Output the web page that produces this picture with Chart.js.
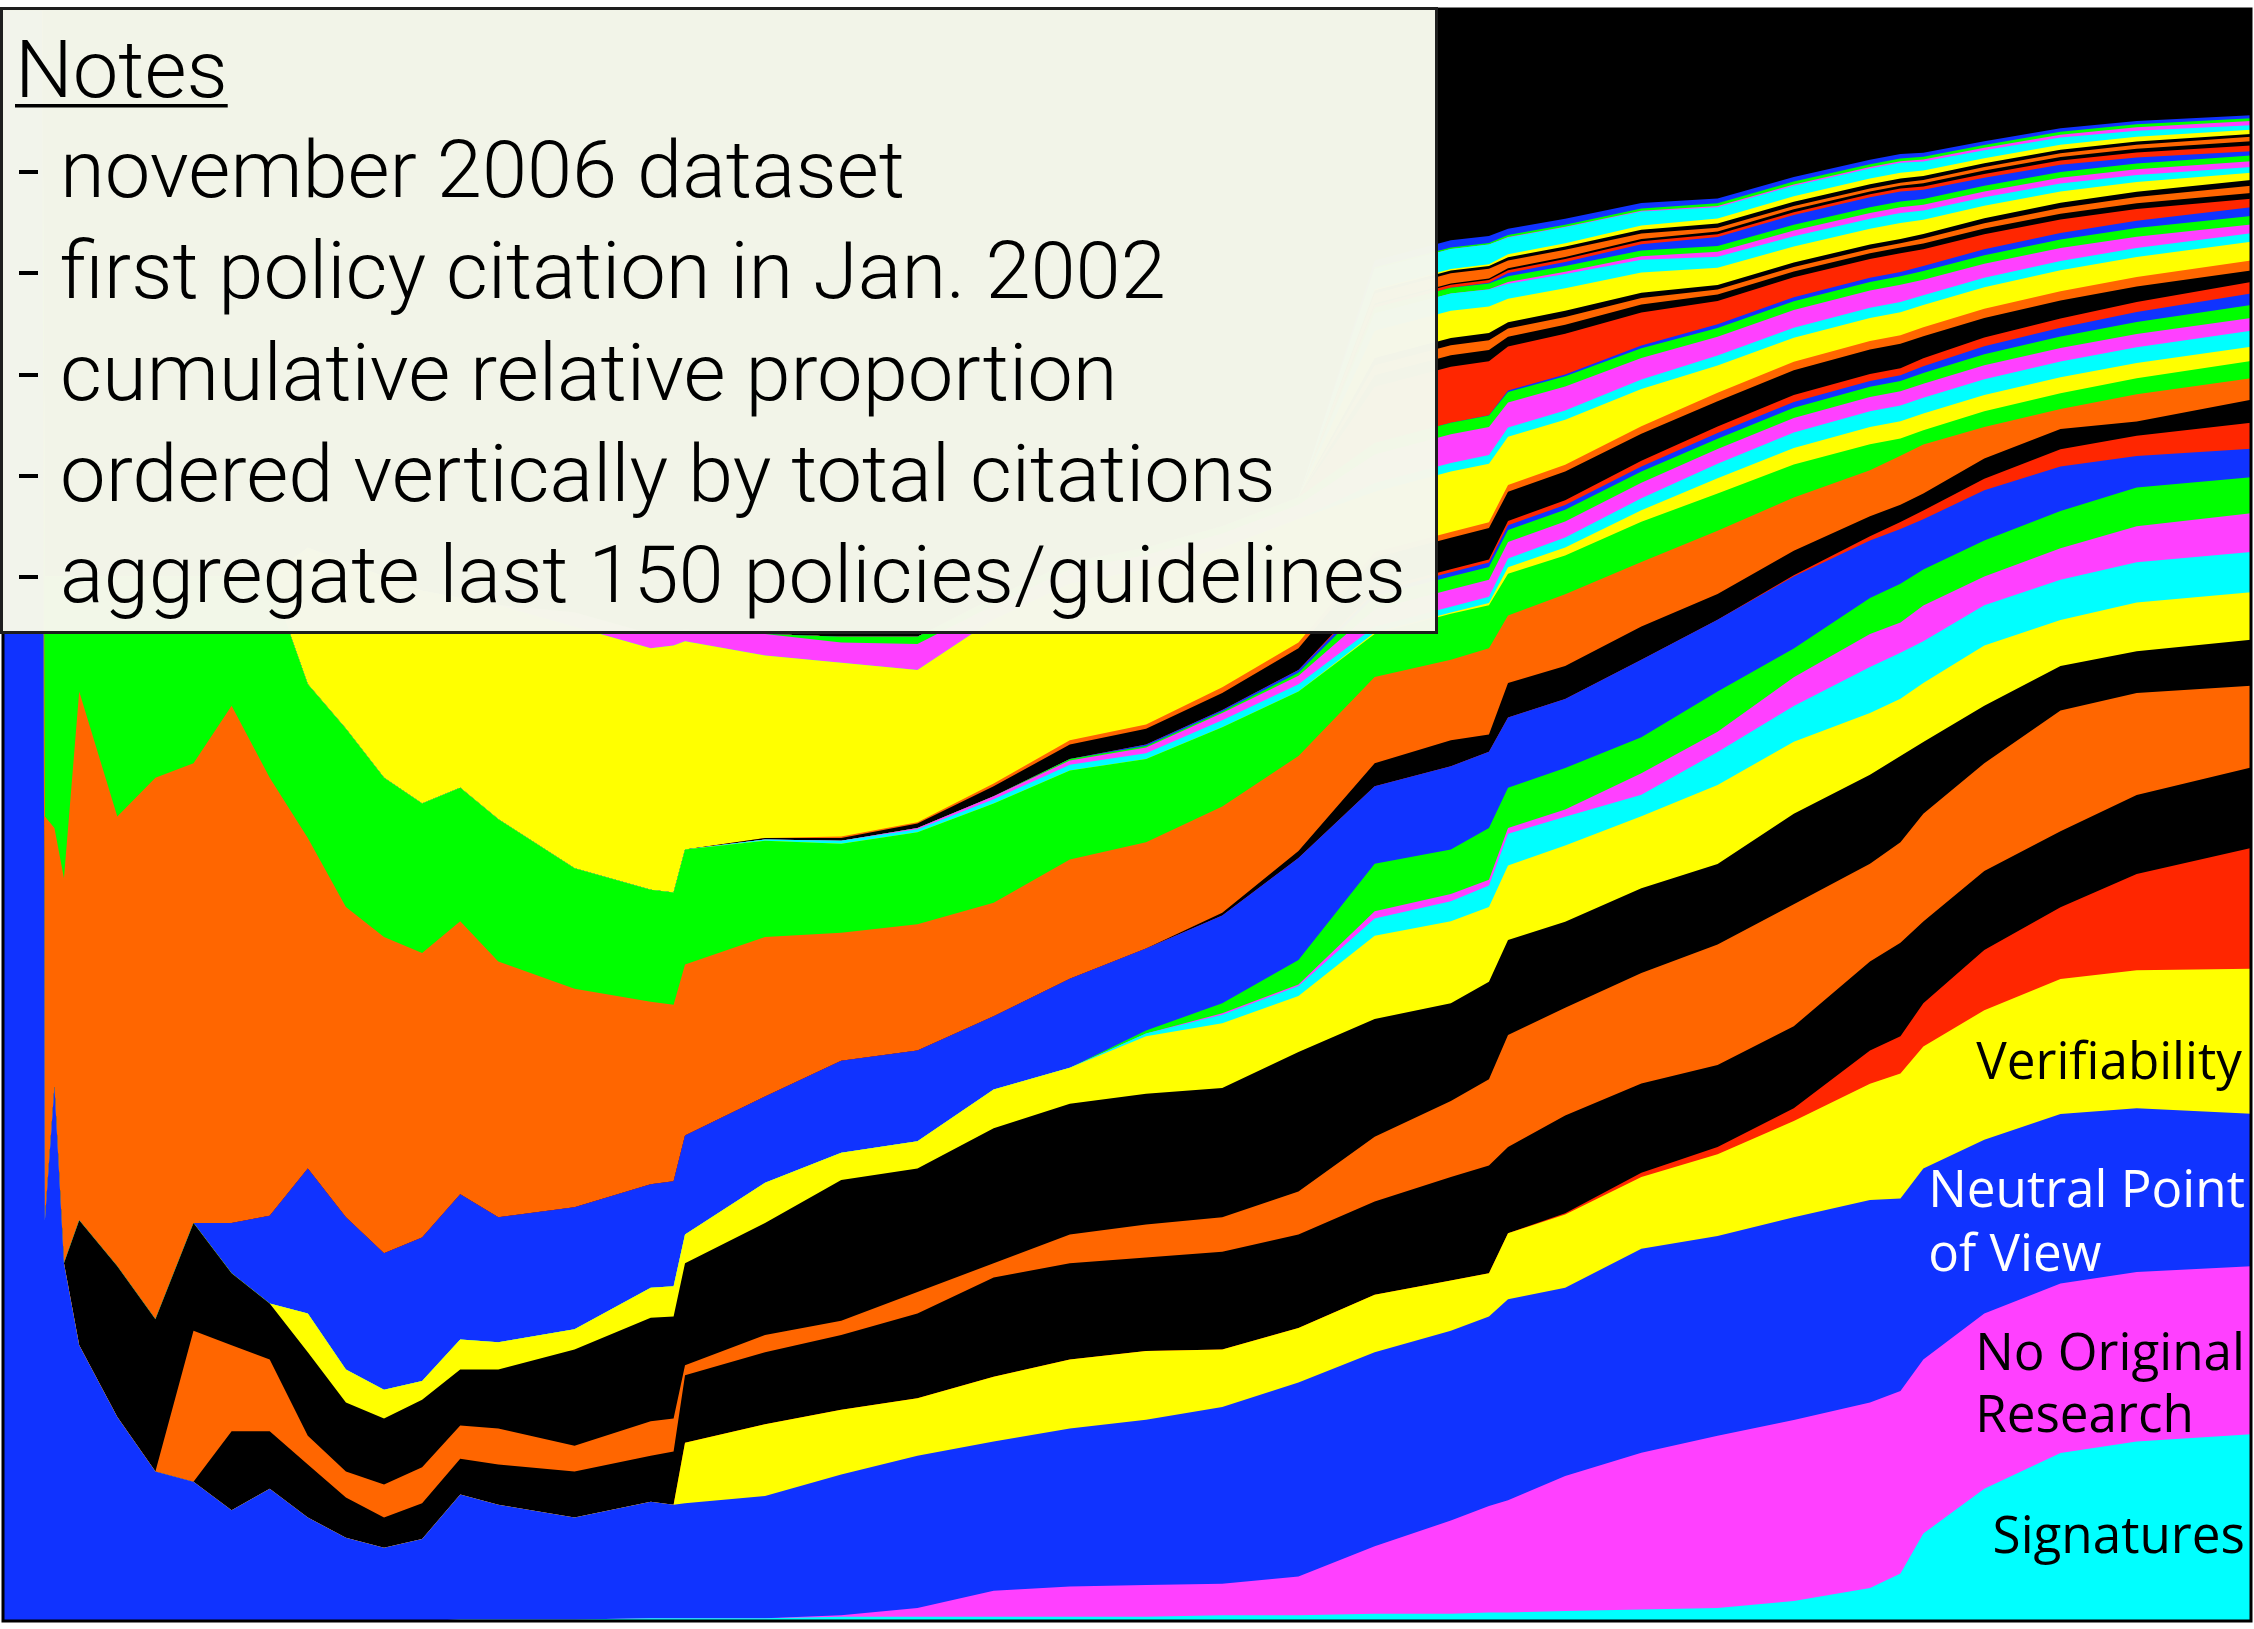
<!DOCTYPE html>
<html lang="en">
<head>
<meta charset="UTF-8">
<title>Policy citations - cumulative relative proportion</title>
<script src="https://cdn.jsdelivr.net/npm/chart.js@4.4.1/dist/chart.umd.min.js"></script>
<style>
  html, body { margin: 0; padding: 0; background: #fff; }
  canvas { display: block; }
</style>
</head>
<body>
<canvas id="chart" width="2254" height="1629"></canvas>
<script>
// months since Jan 2002 (sample points)
const months = [0, 1.03, 1.1, 1.35, 1.6, 2, 3, 4, 5, 6, 7, 8, 9, 10, 11, 12, 13, 15, 17, 17.6, 17.9, 20, 22, 24, 26, 28, 30, 32, 34, 36, 38, 39, 39.5, 41, 43, 45, 47, 49, 49.8, 50.4, 52, 54, 56, 59];

// relative share of citations per policy (bottom of stack first), normalised per month below
const signatures = [0,0,0,0,0, 0,0,0,0,0, 0,0,0,0,0, 1,1,1,2,2, 2,2,3,3,3, 3,3,4,4,5, 5,6,6,7,8, 9,14,23,33,61, 92,117,125,130];
const noOriginalResearch = [0,0,0,0,0, 0,0,0,0,0, 0,0,0,0,0, 0,0,0,0,0, 0,0, 1,6,18,21,22, 22,27,47,65,74, 78,94,109,120,126, 129,127,121,122,118, 118,117];
const neutralPointOfView = [1122,1122,279,372,249, 192,142,104,97,77, 92,72,58,51,57, 87,80,71,81,79, 80,85,98,106,104, 110,115,123,135,135, 132,132,140,131,142, 139,141,141,134,133, 121,118,114,106];
const verifiability = [0,0,0,0,0, 0,0,0,0,0, 0,0,0,0,0, 0,0,0,0,0, 42,50,45,40,45, 48,48,40,38,40, 35,30,46,51,50, 57,67,81,87,85, 90,94,96,101];
const rank05 = [0,0,0,0,0, 0,0,0,0,0, 0,0,0,0,0, 0,0,0,0,0, 0,0,0,0,0, 0,0,0,0,0, 0,0,0, 1,3,5,9,23, 26,30,42,50,67, 84];
const rank06 = [0,0,0,0,0, 0,0,0,0, 55,40,37,28,21, 25,25,28,32,32, 37,47,50,52,59, 69,67,65,68,65, 65,72,75,60,68, 62,57,57,62,65, 57,55,53,55,56];
const rank07 = [0,0,0,0,0, 0,0,0, 105,60,50,20,18, 23,25,23,25,18, 24,23,7,12,10, 15,10,20,23,24, 30,45,53,60,78, 75,77,84,85,68, 70,75,75,84,71, 57];
const rank08 = [0,0,0,0,0, 87,105,106,75,50, 39,58,48,46,47, 39,41,67,72,71, 71,78,98,86,94, 91,91,90,97,82, 68,68,66,60,59, 56,63,62,60,50, 40,31,29,32];
const rank09 = [0,0,0,0,0, 0,0,0,0,0, 0, 27,23,20,13,21, 19,14,21,21,20, 28,19,19,27,25, 40,45,39,58,57, 52,52,53,50,55, 50,43,40,41,42, 32,34,33];
const rank10 = [0,0,0,0,0, 0,0,0,0,0, 0,0,0,0,0, 0,0,0,0,0, 0,0,0,0,0, 0, 2,6,7,12,14, 15,22,20,15,23, 25,32,32,29,28, 28,28,28];
const rank11 = [0,0,0,0,0, 0,0,0,0,0, 0,0,0,0,0, 0,0,0,0,0, 0,0,0,0,0, 0,0, 1,1,5,5,4, 4,5,15,14,20, 23,21,25,20,22, 25,27];
const rank12 = [0,0,0,0,0, 0,0,0,0,0, 0,0,0,0,0, 0,0,0,0,0, 0,0,0,0,0, 0, 2,7,17,33,31, 36,28,29,25,28, 20,25,27,25,25, 26,27,25];
const rank13 = [0,0,0,0,0, 0,0,0,0, 35,61,101,106,95, 100,101,87,85,72, 73,69,60,64,63, 51,62,57,61,71, 54,58,53,49,48, 54,50,50,40,38, 35,35,31,22,20];
const rank14 = [0,0,0,0,0, 0,0,0,0,0, 0,0,0,0,0, 0,0,0,0,0, 0,0,0,0,0, 0,0,0,0,0, 0,0,0,0,0, 0, 1,3,5,6,8,12,14,18];
const rank15 = [0,0,0,0,0, 0,0,0,0,0, 0,0,0,0,0, 0,0,0,0,0, 0,0,0,0,0, 0,0, 2,5,16,18,12, 24,23,23,18,17, 14,12,12,14,14, 10,16];
const rank16 = [0,0,281,180,268, 368,313,377,320,360, 305,230,216,220,198, 190,178,152,127,123, 119,111,89,88,79, 83,74,74,66,60, 56,60,47,50,45, 44,37,32,34,34, 22,14,19,15];
const rank17 = [0,0,167,175,210, 80,167,140,130,90, 140,107,124,111,104, 93,99,84,78,78, 80,67,62,64,69, 62,58,55,45,30, 32,30,29,27,28, 26,23,18,12,10, 11,11,11,12];
const rank18 = [0,0,0,0,0, 0,0,0,0,0, 0,0,0,0,0, 0,0,0,0,0, 0,0,0,0,0, 0,0,0,0, 1,1,1.5,4.5,5.5, 8,10.5,11.5,12,12, 11.6,11.3,11,10.6,10];
const rank19 = [0,0,0,0,0, 0,0,0,0,0, 0,0,0,0,0, 0,0,0,0,0, 0, 1,2,2,3,4, 4,5,5,4,4, 4.4,6.2,6.9,8.3,10.2, 10.8,11,11,11,11, 11,11,11];
const rank20 = [0,0,0,0,0, 0,0,0,0,0, 0,0,0,0,0, 0,0,0,0,0, 0,0,0, 1,2,3,4,5, 6,12,12,11.9,11.4, 11.2,10.8,10.2,10.1,10, 10,9.8,9.6,9.5,9.3, 9];
const rank21 = [0,0,0,0,0, 0,0,0,0,0, 0,0,0,0,0, 0,0,0,0,0, 0,0,0,0,0, 1,1,1,2,9, 9,8.9,8.4,8.2,7.8, 7.2,7.1,7,7,7.4, 7.7,8,8.4,9];
const rank22 = [0,0,0,0,0, 0,0,0,0,0, 0,0,0,0,0, 0,0,0,0,0, 0,0,0,0,0, 0, 1,1,2,3,3, 3,3.3,3.4,3.6,3.9, 4,4,4,4.7,5.5, 6,6.8,8];
const rank23 = [0,0,0,0,0, 0,0,0,0,0, 0,0,0,0,0, 0,0,0,0,0, 0,0,0,0,0, 0,0,0,0, 2,2,2.2,3,3.2, 3.9,4.6,4.9,5,5, 5.5,6.1,6.5,7.1,8];
const rank24 = [0,0,0,0,0, 0,0,0,0,0, 0,0,0,0,0, 0,0,0,0,0, 0, 1,2,3,7,10, 11,12,15,22,22, 21.8,20.4,20,18.9,17.6, 17.2,17,17,15.4,13.7, 12.5,10.7,8];
const rank25 = [0,0,0,0,0, 0,0,0,0,0, 0,0,0,0,0, 0,0,0,0,0, 0,0, 1,1,2,3,3, 4,4,4,4,4.1, 4.6,4.8,5.2,5.8,5.9, 6,6,6.2,6.4,6.5, 6.7,7];
const rank26 = [0,0,0,0,0, 0,0,0,0,0, 0, 95,116,140,148,132, 149,168,168,172,145, 127,121,106,114,109, 108,97,86,42,42, 40.7,33.7,31.3,25.9,19.1, 16.8,16,16,15.5,14.9, 14.5,13.9,13];
const rank27 = [0,0,0,0,0, 0,0,0,0,0, 0,0,0,0,0, 0,0,0,0,0, 0,0,0,0,0, 0,0,0,0, 6,6,6,6.3,6.4, 6.6,6.9,7,7,7, 6.8,6.6,6.5,6.3,6];
const rank28 = [0,0,0,0,0, 0,0,0,0,0, 0,0,0,0,0, 0,0, 10,10,10,8,15, 14,18,10,10,10, 10,10,20,20,19.6, 17.4,16.7,15,13,12.2, 12,12,10.9,9.8,9, 7.8,6];
const rank29 = [0,0,0,0,0, 0,0,0,0,0, 0,0,0,0,0, 0,0,0,0,0, 0,0, 4,5,5,5,5, 5,5,8,8,7.9, 7.4,7.2,6.8,6.2,6.1, 6,6,6,6,6, 6,6];
const rank30 = [0,0,0,0,0, 0,0,0,0,0, 0,0,0,0,0, 0,0,0,0,0, 0,0,0,0,0, 0,0,0,0, 0,0,0.2,1,1.2, 1.9,2.6,2.9,3,3, 3.5,4.1,4.5,5.1,6];
const rank31 = [0,0,0,0,0, 0,0,0,0,0, 0,0,0,0,0, 0,0,0,0,0, 0,0,0,0,0, 0,0,0,0, 39,39,37.7,30.7,28.3, 22.9,16.1,13.8,13,13, 11.7,10.4,9.5,8.1,6];
const rank32 = [0,0,0,0,0, 0,0,0,0,0, 0,0,0,0,0, 0,0,0,0,0, 0,0,0,0,0, 0,0,0,0, 8,8,7.8,6.7,6.4, 5.5,4.5,4.1,4,4, 4,4,4,4,4];
const rank33 = [0,0,0,0,0, 0,0,0,0,0, 0,0,0,0,0, 0,0,0,0,0, 0,0,0,0,0, 0,0,0,0, 7,7,6.8,5.7,5.4, 4.5,3.5,3.1,3,3, 3.4,3.7,4,4.4,5];
const rank34 = [0,0,0,0,0, 0,0,0,0,0, 0,0,0,0,0, 0,0,0,0,0, 0,0,0,0,0, 0,0,0,0, 5,5,4.9,4.4,4.2, 3.8,3.2,3.1,3,3, 3.2,3.4,3.5,3.7,4];
const rank35 = [0,0,0,0,0, 0,0,0,0,0, 0,0,0,0,0, 0,0,0,0,0, 0,0,0,0,0, 0,0,0,0, 19,19,18.6,16.4,15.7, 14,12,11.2,11,11, 9.9,8.8,8,6.8,5];
const rank36 = [0,0,0,0,0, 0,0,0,0,0, 0,0,0,0,0, 0,0,0,0,0, 0,0,0,0,0, 0,0,0,0, 12,12,11.8,10.4,9.9, 8.9,7.6,7.2,7,7, 6.5,5.9,5.5,4.9,4];
const rank37 = [0,0,0,0,0, 0,0,0,0,0, 0,0,0,0,0, 0,0,0,0,0, 0,0,0,0,0, 0,0,0,0, 0,0,0.2,1.3,1.6, 2.5,3.5,3.9,4,4, 4,4,4,4,4];
const rank38 = [0,0,0,0,0, 0,0,0,0,0, 0,0,0,0,0, 0,0,0,0,0, 0,0,0,0,0, 0,0,0,0, 4,4,4,4,4, 4,4,4,4,4, 4,4,4,4,4];
const rank39 = [0,0,0,0,0, 0,0,0,0,0, 0,0,0,0,0, 0,0,0,0,0, 0,0,0,0,0, 0,0,0,0, 0,0,0.4,2.2,2.9, 4.3,6.2,6.8,7,7, 6.3,5.5,5,4.2,3];
const rank40 = [0,0,0,0,0, 0,0,0,0,0, 0,0,0,0,0, 0,0,0,0,0, 0,0,0,0,0, 0,0,0,0, 2,2,2,2,2, 2,2,2,2,2, 2.4,2.7,3,3.4,4];
const rank41 = [0,0,0,0,0, 0,0,0,0,0, 0,0,0,0,0, 0,0,0,0,0, 0,0,0,0,0, 0,0,0,0, 1,1,1,1.3,1.4, 1.6,1.9,2,2,2, 2.2,2.4,2.5,2.7,3];
const rank42 = [0,0,0,0,0, 0,0,0,0,0, 0,0,0,0,0, 0,0,0,0,0, 0,0,0,0,0, 0,0,0,0, 7,7,6.8,5.4,5, 3.9,2.6,2.2,2,2, 2.2,2.4,2.5,2.7,3];
const rank43 = [0,0,0,0,0, 0,0,0,0,0, 0,0,0,0,0, 0,0,0,0,0, 0,0,0,0,0, 0,0,0,0, 2,2,2,2.3,2.4, 2.6,2.9,3,3,3, 2.8,2.6,2.5,2.3,2];
const rank44 = [0,0,0,0,0, 0,0,0,0,0, 0,0,0,0,0, 0,0,0,0,0, 0,0,0,0,0, 0,0,0,0, 1,1,1.2,2,2.2, 2.9,3.6,3.9,4,4, 3.8,3.6,3.5,3.3,3];
const rank45 = [0,0,0,0,0, 0,0,0,0,0, 0,0,0,0,0, 0,0,0,0,0, 0,0,0,0,0, 0,0,0,0, 14,14,13.7,11.8,11.1, 9.7,7.8,7.2,7,7, 6.3,5.5,5,4.2,3];
const rank46 = [0,0,0,0,0, 0,0,0,0,0, 0,0,0,0,0, 0,0,0,0,0, 0,0,0,0,0, 0,0,0,0, 0,0,0,0.3,0.4, 0.6,0.9,1,1,1, 1.4,1.7,2,2.4,3];
const rank47 = [0,0,0,0,0, 0,0,0,0,0, 0,0,0,0,0, 0,0,0,0,0, 0,0,0,0,0, 0,0,0,0, 1,1,1,1.3,1.4, 1.6,1.9,2,2,2, 2,2,2,2,2];
const rank48 = [0,0,0,0,0, 0,0,0,0,0, 0,0,0,0,0, 0,0,0,0,0, 0,0,0,0,0, 0,0,0,0, 5,5,4.9,4.4,4.2, 3.8,3.2,3.1,3,3, 2.8,2.6,2.5,2.3,2];
const aggregateLast150 = [0,0,395,395,395, 395,395,395,395,395, 395,375,385,395,405, 410,415,420,435,433, 432,435,437,437,410, 385,375,360,340,175, 161,158,153,146,135, 132,117,105,101,100, 92,83,78,74];

const CYAN = '#00ffff', MAGENTA = '#ff40ff', BLUE = '#1033ff', YELLOW = '#ffff00',
      RED = '#ff2600', BLACK = '#000000', ORANGE = '#ff6600', GREEN = '#00ff00';

const layers = [
  ['Signatures', signatures, CYAN],
  ['No Original Research', noOriginalResearch, MAGENTA],
  ['Neutral Point of View', neutralPointOfView, BLUE],
  ['Verifiability', verifiability, YELLOW],
  ['#5', rank05, RED], ['#6', rank06, BLACK], ['#7', rank07, ORANGE], ['#8', rank08, BLACK],
  ['#9', rank09, YELLOW], ['#10', rank10, CYAN], ['#11', rank11, MAGENTA], ['#12', rank12, GREEN],
  ['#13', rank13, BLUE], ['#14', rank14, RED], ['#15', rank15, BLACK], ['#16', rank16, ORANGE],
  ['#17', rank17, GREEN], ['#18', rank18, YELLOW], ['#19', rank19, CYAN], ['#20', rank20, MAGENTA],
  ['#21', rank21, GREEN], ['#22', rank22, BLUE], ['#23', rank23, RED], ['#24', rank24, BLACK],
  ['#25', rank25, ORANGE], ['#26', rank26, YELLOW], ['#27', rank27, CYAN], ['#28', rank28, MAGENTA],
  ['#29', rank29, GREEN], ['#30', rank30, BLUE], ['#31', rank31, RED], ['#32', rank32, BLACK],
  ['#33', rank33, ORANGE], ['#34', rank34, BLACK], ['#35', rank35, YELLOW], ['#36', rank36, CYAN],
  ['#37', rank37, MAGENTA], ['#38', rank38, GREEN], ['#39', rank39, BLUE], ['#40', rank40, RED],
  ['#41', rank41, BLACK], ['#42', rank42, ORANGE], ['#43', rank43, BLACK], ['#44', rank44, YELLOW],
  ['#45', rank45, CYAN], ['#46', rank46, MAGENTA], ['#47', rank47, GREEN], ['#48', rank48, BLUE],
  ['aggregate last 150 policies/guidelines', aggregateLast150, BLACK]
];

layers.forEach(l => { if (l[1].length !== months.length) console.error('bad length', l[0], l[1].length); });

// relative proportion per month
const totals = months.map((m, i) => layers.reduce((s, l) => s + l[1][i], 0));

const datasets = layers.map(([name, values, color]) => ({
  label: name,
  data: values.map((v, i) => ({ x: months[i], y: v / totals[i] * 100 })),
  backgroundColor: color,
  borderColor: color,
  borderWidth: 0,
  pointRadius: 0,
  pointHoverRadius: 0,
  tension: 0,
  fill: 'origin'
}));

const bandLabels = [
  { lines: ['Verifiability'], right: 58.76, baselines: [33.6], color: '#000' },
  { lines: ['Neutral Point', 'of View'], right: 58.84, baselines: [25.7, 21.7], color: '#fff' },
  { lines: ['No Original', 'Research'], right: 58.84, baselines: [15.6, 11.7], color: '#000' },
  { lines: ['Signatures'], right: 58.84, baselines: [4.2], color: '#000' }
];

const notesTitle = 'Notes';
const notesLines = [
  '- november 2006 dataset',
  '- first policy citation in Jan. 2002',
  '- cumulative relative proportion',
  '- ordered vertically by total citations',
  '- aggregate last 150 policies/guidelines'
];

const overlay = {
  id: 'overlay',
  afterDraw(chart) {
    const ctx = chart.ctx;
    const a = chart.chartArea;
    const xs = chart.scales.x, ys = chart.scales.y;

    // frame
    ctx.save();
    ctx.strokeStyle = '#000';
    ctx.lineWidth = 3;
    ctx.strokeRect(a.left, a.top, a.right - a.left, a.bottom - a.top);
    ctx.restore();

    // band labels
    ctx.save();
    ctx.font = '100px "Open Sans", "DejaVu Sans", sans-serif';
    const size = 100 * 317 / ctx.measureText('Neutral Point').width;
    ctx.font = size.toFixed(1) + 'px "Open Sans", "DejaVu Sans", sans-serif';
    ctx.textBaseline = 'alphabetic';
    ctx.textAlign = 'left';
    bandLabels.forEach(lab => {
      const w = Math.max(...lab.lines.map(t => ctx.measureText(t).width));
      const left = xs.getPixelForValue(lab.right) - w;
      ctx.fillStyle = lab.color;
      lab.lines.forEach((t, i) => ctx.fillText(t, left, ys.getPixelForValue(lab.baselines[i])));
    });
    ctx.restore();

    // notes box
    ctx.save();
    ctx.fillStyle = 'rgba(245,247,235,0.99)';
    ctx.fillRect(1, 8, 1436, 625);
    ctx.strokeStyle = '#1e1e1e';
    ctx.lineWidth = 3;
    ctx.strokeRect(1.5, 8.5, 1435, 624);
    ctx.fillStyle = '#000';
    ctx.textBaseline = 'alphabetic';
    ctx.font = '300 80px Roboto, "Liberation Sans", sans-serif';
    const longest = Math.max(...notesLines.map(t => ctx.measureText(t).width));
    const sx = 1389 / longest;
    const drawLine = (t, x, y) => {
      ctx.save();
      ctx.translate(x, y);
      ctx.scale(sx, 1);
      ctx.fillText(t, 0, 0);
      ctx.restore();
    };
    drawLine(notesTitle, 15, 97);
    const tw = ctx.measureText(notesTitle).width * sx;
    ctx.fillRect(15, 104, tw, 3.5);
    const baselines = [197, 298, 400, 501, 602];
    notesLines.forEach((t, i) => drawLine(t, 17, baselines[i]));
    ctx.restore();
  }
};

new Chart(document.getElementById('chart').getContext('2d'), {
  type: 'line',
  data: { datasets },
  options: {
    responsive: false,
    animation: false,
    devicePixelRatio: 1,
    events: [],
    layout: { padding: { left: 3, right: 3, top: 9, bottom: 8 } },
    scales: {
      x: { type: 'linear', min: 0, max: 59, display: false },
      y: { min: 0, max: 100, stacked: true, display: false }
    },
    plugins: {
      legend: { display: false },
      tooltip: { enabled: false },
      filler: { drawTime: 'beforeDatasetDraw' }
    }
  },
  plugins: [overlay]
});
</script>
</body>
</html>
